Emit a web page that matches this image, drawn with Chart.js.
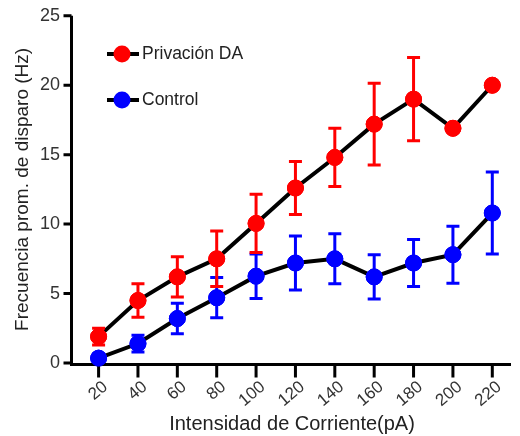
<!DOCTYPE html>
<html>
<head>
<meta charset="utf-8">
<script src="https://cdn.jsdelivr.net/npm/chart.js@4"></script>
<style>
    html, body { margin: 0; padding: 0; background: #fff; }
    #contenedor { width: 520px; height: 436px; position: relative; }
    #ejes { position: absolute; left: 0; top: 0; pointer-events: none; }
</style>
</head>
<body>
<div id="contenedor"><canvas id="grafico"></canvas><canvas id="ejes" width="520" height="436"></canvas></div>
<script>
// Datos
const corrientes = [20, 40, 60, 80, 100, 120, 140, 160, 180, 200, 220];
const privacionDA = [1.9, 4.5, 6.2, 7.5, 10.05, 12.6, 14.8, 17.2, 19.0, 16.9, 20.0];
const privacionDAError = [0.6, 1.2, 1.45, 2.0, 2.1, 1.9, 2.1, 2.95, 3.0, 0, 0];
const control = [0.35, 1.4, 3.2, 4.7, 6.25, 7.2, 7.5, 6.2, 7.2, 7.8, 10.8];
const controlError = [0.3, 0.6, 1.1, 1.45, 1.6, 1.95, 1.8, 1.6, 1.7, 2.05, 2.95];
const ticksY = [0, 5, 10, 15, 20, 25];

const rojo = '#ff0000';
const azul = '#0000ff';
const fuente = "'Liberation Sans', Arial, sans-serif";

// errores por dataset (mismo orden que datasets)
const errores = [controlError, privacionDAError];

function puntos(valores) {
    return corrientes.map((c, i) => ({ x: c, y: valores[i] }));
}

// Barras de error
const barrasError = {
    id: 'barrasError',
    afterDatasetsDraw(chart) {
        const c = chart.ctx;
        const ey = chart.scales.y;
        chart.data.datasets.forEach((ds, i) => {
            const meta = chart.getDatasetMeta(i);
            c.save();
            c.strokeStyle = ds.pointBackgroundColor;
            c.lineWidth = 3;
            meta.data.forEach((p, j) => {
                const e = errores[i][j];
                if (!e) return;
                const v = ds.data[j].y;
                const arriba = ey.getPixelForValue(v + e);
                const abajo = ey.getPixelForValue(v - e);
                c.beginPath();
                c.moveTo(p.x, arriba);
                c.lineTo(p.x, abajo);
                c.moveTo(p.x - 6.5, arriba);
                c.lineTo(p.x + 6.5, arriba);
                c.moveTo(p.x - 6.5, abajo);
                c.lineTo(p.x + 6.5, abajo);
                c.stroke();
            });
            c.restore();
        });
    }
};

// Ejes y marcas en una capa aparte, con las escalas del gráfico
const ejes = {
    id: 'ejes',
    afterDraw(chart) {
        const lienzo = document.getElementById('ejes');
        const c = lienzo.getContext('2d');
        const ex = chart.scales.x;
        const ey = chart.scales.y;
        const area = chart.chartArea;
        const izq = area.left - 1.5;
        const base = area.bottom + 1.5;
        c.clearRect(0, 0, lienzo.width, lienzo.height);
        c.save();
        c.strokeStyle = '#000';
        c.lineWidth = 3;
        c.beginPath();
        c.moveTo(izq, area.top);
        c.lineTo(izq, base + 1.5);
        c.moveTo(izq - 1.5, base);
        c.lineTo(area.right, base);
        ticksY.forEach(v => {
            const py = ey.getPixelForValue(v);
            c.moveTo(izq - 8, py);
            c.lineTo(izq, py);
        });
        corrientes.forEach(v => {
            const px = ex.getPixelForValue(v);
            c.moveTo(px, base);
            c.lineTo(px, base + 13);
        });
        c.stroke();
        c.restore();
        // puntos encima de los ejes (Control arriba)
        const todo = { left: -10000, right: 10000, top: -10000, bottom: 10000 };
        [1, 0].forEach(i => {
            chart.getDatasetMeta(i).data.forEach(p => p.draw(c, todo));
        });
    }
};

// Leyenda dentro del área
const leyenda = {
    id: 'leyenda',
    afterDraw(chart) {
        const c = chart.ctx;
        const items = [
            { texto: 'Privación DA', color: rojo, y: 54 },
            { texto: 'Control', color: azul, y: 100 }
        ];
        c.save();
        items.forEach(it => {
            c.strokeStyle = '#000';
            c.lineWidth = 4;
            c.beginPath();
            c.moveTo(107, it.y);
            c.lineTo(139, it.y);
            c.stroke();
            c.fillStyle = it.color;
            c.beginPath();
            c.arc(122, it.y, 8.5, 0, Math.PI * 2);
            c.fill();
            c.fillStyle = '#222';
            c.font = '17.5px ' + fuente;
            c.textBaseline = 'middle';
            c.fillText(it.texto, 142, it.y);
        });
        c.restore();
    }
};

new Chart(document.getElementById('grafico'), {
    type: 'line',
    data: {
        datasets: [
            {
                label: 'Control',
                data: puntos(control),
                borderColor: '#000',
                borderWidth: 4,
                pointBackgroundColor: azul,
                pointBorderColor: azul,
                pointBorderWidth: 1,
                pointRadius: 8,
                clip: false
            },
            {
                label: 'Privación DA',
                data: puntos(privacionDA),
                borderColor: '#000',
                borderWidth: 4,
                pointBackgroundColor: rojo,
                pointBorderColor: rojo,
                pointBorderWidth: 1,
                pointRadius: 8,
                clip: false
            }
        ]
    },
    options: {
        responsive: true,
        maintainAspectRatio: false,
        animation: false,
        layout: { padding: { top: 7, right: 2, left: 0, bottom: 0 } },
        plugins: {
            legend: { display: false },
            tooltip: { enabled: false }
        },
        scales: {
            x: {
                type: 'linear',
                min: 7,
                max: 229.5,
                afterBuildTicks: s => { s.ticks = corrientes.map(v => ({ value: v })); },
                afterFit: s => { s.height = 73; },
                border: { display: false },
                grid: { drawOnChartArea: false, color: 'rgba(0,0,0,0)', tickLength: 13 },
                ticks: {
                    autoSkip: false,
                    minRotation: 40,
                    maxRotation: 40,
                    labelOffset: 7,
                    padding: 1,
                    color: '#333',
                    font: { family: fuente, size: 17 }
                },
                title: {
                    display: true,
                    text: 'Intensidad de Corriente(pA)',
                    color: '#222',
                    font: { family: fuente, size: 20 },
                    padding: { top: 0, bottom: 0 }
                }
            },
            y: {
                min: 0,
                max: 25,
                afterBuildTicks: s => { s.ticks = ticksY.map(v => ({ value: v })); },
                afterFit: s => { s.width = 73; },
                border: { display: false },
                grid: { drawOnChartArea: false, color: 'rgba(0,0,0,0)', tickLength: 8 },
                ticks: {
                    padding: 5,
                    color: '#333',
                    font: { family: fuente, size: 18 }
                },
                title: {
                    display: true,
                    text: 'Frecuencia prom. de disparo (Hz)',
                    color: '#222',
                    font: { family: fuente, size: 19 },
                    padding: { top: 11, bottom: 0 }
                }
            }
        }
    },
    plugins: [barrasError, leyenda, ejes]
});
</script>
</body>
</html>
